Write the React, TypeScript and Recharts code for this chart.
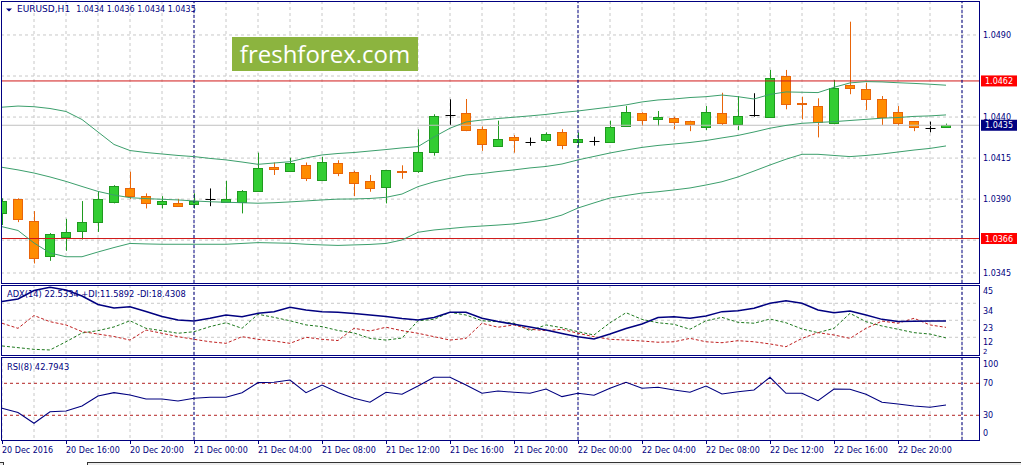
import React from "react";
import { Bar, CartesianGrid, ComposedChart, Line, ReferenceLine, XAxis, YAxis } from "recharts";

// EURUSD H1, 20 Dec 12:00 .. 22 Dec 23:00 (one entry per hour)
const opens = [1.03815, 1.039, 1.03766, 1.03552, 1.0367, 1.03705, 1.03762, 1.03884, 1.03965, 1.03916,
  1.0387, 1.03874, 1.0387, 1.03898, 1.03884, 1.03884, 1.03951, 1.04098, 1.04073, 1.04108,
  1.04014, 1.04118, 1.04063, 1.04008, 1.03976, 1.04072, 1.0407, 1.04188, 1.04412, 1.04427,
  1.04326, 1.04226, 1.04278, 1.04247, 1.04258, 1.04307, 1.04247, 1.04255, 1.04247, 1.04344,
  1.04427, 1.04387, 1.04393, 1.04375, 1.04342, 1.04427, 1.04356, 1.04413, 1.04402, 1.04648,
  1.04483, 1.04466, 1.04366, 1.04597, 1.04569, 1.0451, 1.04429, 1.04376, 1.04333, 1.0434];
const highs = [1.03905, 1.03905, 1.03827, 1.03693, 1.0378, 1.03888, 1.03945, 1.03985, 1.04067, 1.03935,
  1.03918, 1.03902, 1.03935, 1.03965, 1.04012, 1.03955, 1.04183, 1.04123, 1.04152, 1.04123,
  1.04158, 1.04137, 1.04073, 1.04047, 1.04078, 1.04106, 1.04325, 1.04417, 1.04508, 1.0451,
  1.04343, 1.04378, 1.0429, 1.04275, 1.04307, 1.04326, 1.04306, 1.0428, 1.04378, 1.04467,
  1.04429, 1.04437, 1.04402, 1.04378, 1.04467, 1.04548, 1.04528, 1.04545, 1.04687, 1.04687,
  1.04524, 1.04514, 1.04626, 1.04981, 1.04609, 1.04528, 1.04467, 1.04376, 1.04372, 1.0436];
const lows = [1.03742, 1.0376, 1.03508, 1.03524, 1.03585, 1.03654, 1.037, 1.03874, 1.039, 1.03843,
  1.03843, 1.03853, 1.03843, 1.03857, 1.03884, 1.03813, 1.03945, 1.04047, 1.04065, 1.0401,
  1.0401, 1.0404, 1.03918, 1.03945, 1.03874, 1.04024, 1.0406, 1.04165, 1.04351, 1.04314,
  1.04194, 1.04226, 1.04183, 1.04225, 1.04247, 1.04204, 1.0422, 1.04226, 1.04247, 1.04342,
  1.04345, 1.04345, 1.04326, 1.04314, 1.0432, 1.04352, 1.0432, 1.04402, 1.04398, 1.04447,
  1.04386, 1.04276, 1.04356, 1.04539, 1.04443, 1.04352, 1.04345, 1.04314, 1.04307, 1.0434];
const closes = [1.03888, 1.03776, 1.03544, 1.03685, 1.03697, 1.03758, 1.03898, 1.03979, 1.0392, 1.03874,
  1.03888, 1.03856, 1.0389, 1.03898, 1.039, 1.03947, 1.04088, 1.04084, 1.0412, 1.04027,
  1.04124, 1.04057, 1.03996, 1.03965, 1.04076, 1.04068, 1.04188, 1.04409, 1.04412, 1.0432,
  1.04235, 1.04265, 1.04258, 1.04247, 1.04295, 1.04228, 1.04267, 1.04255, 1.04338, 1.04429,
  1.04385, 1.04402, 1.04368, 1.04356, 1.04429, 1.04366, 1.04405, 1.04413, 1.04636, 1.04478,
  1.04477, 1.04372, 1.04577, 1.04575, 1.04512, 1.04402, 1.04366, 1.04338, 1.04333, 1.0435];

const bbUpper = [1.0446, 1.04467, 1.04463, 1.04452, 1.04434, 1.04385, 1.04309, 1.04233, 1.04196, 1.04184,
  1.04175, 1.04166, 1.04159, 1.04148, 1.04139, 1.04126, 1.04112, 1.0412, 1.04128, 1.04151,
  1.04169, 1.04178, 1.04184, 1.04193, 1.04202, 1.04212, 1.0422, 1.04279, 1.04332, 1.0437,
  1.04382, 1.04391, 1.04399, 1.04407, 1.04416, 1.04428, 1.04437, 1.04449, 1.04461, 1.04474,
  1.04492, 1.04504, 1.0451, 1.04519, 1.04524, 1.04534, 1.04524, 1.0451, 1.04538, 1.04553,
  1.04551, 1.04549, 1.04581, 1.04608, 1.04616, 1.04614, 1.04609, 1.04605, 1.046, 1.04594];
const bbMiddle = [1.04094, 1.04078, 1.04059, 1.04035, 1.04008, 1.03977, 1.03947, 1.03925, 1.03909, 1.03903,
  1.03899, 1.03895, 1.03889, 1.03884, 1.03881, 1.03878, 1.03875, 1.03878, 1.03883, 1.03889,
  1.03895, 1.039, 1.03901, 1.03904, 1.03911, 1.03931, 1.03976, 1.04005, 1.04027, 1.04047,
  1.04056, 1.04068, 1.04078, 1.0409, 1.04099, 1.04114, 1.04139, 1.0416, 1.04181, 1.04199,
  1.04215, 1.04227, 1.04236, 1.04245, 1.04257, 1.04273, 1.04288, 1.04309, 1.04332, 1.04349,
  1.04362, 1.04367, 1.04372, 1.04379, 1.04386, 1.04393, 1.04397, 1.04404, 1.04407, 1.04413];
const bbLower = [1.03732, 1.03709, 1.03633, 1.03572, 1.03549, 1.03549, 1.03578, 1.03605, 1.0363, 1.03627,
  1.03625, 1.03625, 1.03625, 1.03625, 1.03625, 1.0363, 1.03635, 1.03633, 1.03631, 1.03625,
  1.03621, 1.03618, 1.03621, 1.03624, 1.0363, 1.03651, 1.03698, 1.03712, 1.03721, 1.0373,
  1.03736, 1.03742, 1.03749, 1.03761, 1.03776, 1.03803, 1.03846, 1.03877, 1.03907, 1.03922,
  1.03937, 1.03945, 1.03956, 1.03968, 1.03986, 1.04006, 1.04035, 1.04071, 1.04108, 1.04143,
  1.04173, 1.04173, 1.04166, 1.04159, 1.04166, 1.04175, 1.04187, 1.04199, 1.04209, 1.04224];

const adxMain = [35.2, 36.8, 42.3, 44.4, 42.6, 38.7, 33.2, 31.0, 31.8, 28.7,
  25.5, 23.2, 22.5, 24.3, 26.4, 25.3, 27.5, 28.6, 31.4, 29.7,
  28.6, 28.2, 27.4, 26.4, 25.5, 24.2, 23.2, 24.8, 28.2, 28.2,
  24.3, 22.2, 20.4, 18.7, 16.7, 14.5, 12.4, 10.9, 14.1, 17.7,
  20.6, 24.8, 25.3, 24.3, 25.8, 28.6, 29.2, 30.8, 34.0, 35.7,
  34.0, 29.7, 27.9, 29.0, 26.4, 23.6, 22.2, 22.4, 22.5, 22.53];
const plusDi = [6.4, 5.3, 4.2, 3.8, 9.1, 14.8, 16.3, 18.7, 22.7, 17.8,
  16.3, 14.6, 15.6, 18.9, 21.4, 17.8, 26.9, 24.9, 22.7, 20.0,
  18.9, 16.4, 14.8, 11.3, 10.2, 11.5, 22.7, 23.6, 28.2, 26.4,
  22.7, 22.1, 21.1, 16.3, 20.0, 18.2, 15.6, 13.5, 21.4, 27.9,
  23.6, 21.4, 20.4, 17.2, 22.7, 24.9, 21.7, 21.1, 23.8, 21.4,
  17.4, 15.0, 17.8, 27.5, 22.1, 19.3, 17.2, 15.0, 14.1, 11.59];
const minusDi = [21.1, 17.8, 26.1, 22.1, 20.0, 15.7, 14.1, 12.5, 10.2, 16.7,
  14.6, 12.4, 10.7, 9.1, 8.1, 12.4, 10.7, 9.6, 8.1, 12.0,
  10.7, 9.9, 17.8, 16.1, 18.5, 16.3, 14.6, 12.4, 10.2, 11.3,
  21.1, 18.5, 20.0, 17.2, 16.3, 17.2, 14.6, 12.4, 10.7, 10.2,
  9.6, 8.8, 9.1, 11.3, 9.1, 8.5, 9.8, 9.1, 7.7, 5.9,
  11.3, 15.0, 13.5, 11.3, 17.8, 22.5, 21.1, 24.3, 20.0, 18.43];
const rsi = [38.8, 33.5, 20.0, 34.5, 35.4, 41.6, 54.1, 58.3, 55.4, 50.4,
  50.4, 47.9, 51.3, 52.5, 52.5, 58.3, 70.8, 71.3, 74.1, 58.3,
  67.9, 58.5, 51.3, 46.3, 58.8, 56.3, 66.6, 77.5, 77.5, 67.9,
  57.5, 60.4, 58.8, 57.5, 62.9, 53.3, 57.5, 55.0, 63.8, 71.3,
  63.8, 65.0, 61.6, 58.8, 66.6, 56.6, 59.5, 61.6, 77.5, 57.5,
  57.5, 48.3, 62.9, 62.5, 56.3, 46.3, 44.1, 41.6, 40.0, 42.79];

// one label every 4 bars
const timeLabels = ["20 Dec 2016", "20 Dec 16:00", "20 Dec 20:00", "21 Dec 00:00", "21 Dec 04:00",
  "21 Dec 08:00", "21 Dec 12:00", "21 Dec 16:00", "21 Dec 20:00", "22 Dec 00:00", "22 Dec 04:00",
  "22 Dec 08:00", "22 Dec 12:00", "22 Dec 16:00", "22 Dec 20:00"];
const daySeparators = [12, 36, 60];
const priceTicks = [1.0345, 1.039, 1.0415, 1.044, 1.049];
const priceGrid = [1.0345, 1.0365, 1.039, 1.0415, 1.044, 1.0465, 1.049];
const adxTicks = [2, 12, 23, 34, 45];
const adxGrid = [12, 23, 34];
const rsiTicks = [0, 30, 70, 100];
const rsiLevels = [30, 70];
const support = 1.0366;
const resistance = 1.0462;
const bid = 1.0435;

const NAVY = "#000080";
const GRID = "#c8c8c8";
const BAND = "#3c9f6c";
const FONT = "'DejaVu Sans', sans-serif";
const X_DOMAIN: [number, number] = [-0.0625, 61.0625];
const xGrid = Array.from({ length: 31 }, (_, i) => i * 2);

const bars = opens.map((open, i) => ({
  k: i,
  open,
  close: closes[i],
  high: highs[i],
  low: lows[i],
  range: [lows[i], highs[i]],
  upper: bbUpper[i],
  middle: bbMiddle[i],
  lower: bbLower[i],
  adx: adxMain[i],
  pdi: plusDi[i],
  mdi: minusDi[i],
  rsi: rsi[i],
}));

function Candle(props: any) {
  const { x, y, width, height, payload } = props;
  if (x == null || y == null || !payload) return null;
  const { open, close, high, low } = payload;
  const top = Math.min(y, y + height);
  const span = Math.abs(height);
  const perUnit = high > low ? span / (high - low) : 0;
  const py = (v: number) => top + (high - v) * perUnit;
  const cx = Math.round(x + width / 2) + 0.5;
  const wickTop = py(high);
  const wickBot = py(low);

  if (Math.abs(open - close) < 1e-7) {
    const yy = Math.round(py(open)) + 0.5;
    return (
      <g>
        <line x1={cx} x2={cx} y1={wickTop} y2={wickBot} stroke="#000" />
        <line x1={cx - 5} x2={cx + 5} y1={yy} y2={yy} stroke="#000" />
      </g>
    );
  }

  const bull = close > open;
  const fill = bull ? "#32cd32" : "#ff8c00";
  const edge = bull ? "#1f9a1f" : "#e8650a";
  const bTop = Math.round(py(Math.max(open, close))) + 0.5;
  const bBot = Math.round(py(Math.min(open, close))) + 0.5;
  return (
    <g>
      <line x1={cx} x2={cx} y1={wickTop} y2={wickBot} stroke={edge} />
      {bBot - bTop < 1 ? (
        <line x1={cx - 5} x2={cx + 4} y1={bTop} y2={bTop} stroke={edge} strokeWidth={2} />
      ) : (
        <rect x={cx - 5} y={bTop} width={9} height={bBot - bTop} fill={fill} stroke={edge} />
      )}
    </g>
  );
}

const levelTag = (text: string, fill: string) => (p: any) => {
  const vb = p.viewBox || {};
  const x0 = (vb.x || 0) + (vb.width || 0) + 2;
  const yy = vb.y || 0;
  return (
    <g>
      <rect x={x0} y={yy - 5.5} width={36} height={11} fill={fill} />
      <text x={x0 + 18} y={yy + 3} textAnchor="middle" fill="#fff" fontSize={8} fontFamily={FONT}>
        {text}
      </text>
    </g>
  );
};

const axisLabel = (shift: Record<number, number>, fmt: (v: number) => string, sizes: Record<number, number> = {}) => (p: any) => {
  const v = p.payload.value;
  return (
    <text x={p.x + 4} y={p.y + (shift[v] ?? 0) + 3} fill={NAVY} fontSize={sizes[v] ?? 8} fontFamily={FONT} textAnchor="start">
      {fmt(v)}
    </text>
  );
};

const timeTick = (p: any) => {
  const k = p.payload.value;
  const label = timeLabels[k / 4];
  const tx = Math.round(p.x) + 0.5;
  return (
    <g>
      <line x1={tx} x2={tx} y1={p.y} y2={p.y + 4} stroke={NAVY} />
      <text x={p.x} y={p.y + 12.5} fill={NAVY} fontSize={8} fontFamily={FONT} textAnchor="start">
        {label}
      </text>
    </g>
  );
};

function separators() {
  return daySeparators.map((d) => (
    <ReferenceLine key={d} x={d} stroke={NAVY} strokeDasharray="3 2" ifOverflow="visible" />
  ));
}

function MainPanel() {
  return (
    <ComposedChart width={1021} height={284} data={bars} margin={{ top: 1, right: 0, bottom: 1, left: 1 }}>
      <CartesianGrid stroke={GRID} strokeDasharray="3 3" horizontalValues={priceGrid} verticalValues={xGrid} />
      <XAxis dataKey="k" type="number" domain={X_DOMAIN} hide allowDataOverflow />
      <YAxis
        orientation="right"
        width={42}
        domain={[1.03389, 1.05107]}
        ticks={priceTicks}
        interval={0}
        axisLine={false}
        tickLine={false}
        tickSize={0}
        tickMargin={0}
        tick={axisLabel({}, (v) => v.toFixed(4))}
        allowDataOverflow
      />
      <ReferenceLine y={bid} stroke="#c0c0c0" label={levelTag("1.0435", NAVY)} />
      <ReferenceLine y={resistance} stroke="#d01818" label={levelTag("1.0462", "#ff0000")} />
      <ReferenceLine y={support} stroke="#d01818" label={levelTag("1.0366", "#ff0000")} />
      {separators()}
      <Line dataKey="upper" stroke={BAND} dot={false} isAnimationActive={false} />
      <Line dataKey="middle" stroke={BAND} dot={false} isAnimationActive={false} />
      <Line dataKey="lower" stroke={BAND} dot={false} isAnimationActive={false} />
      <Bar dataKey="range" barSize={10} shape={(p: any) => <Candle {...p} />} isAnimationActive={false} />
    </ComposedChart>
  );
}

function AdxPanel() {
  return (
    <ComposedChart width={1021} height={72} data={bars} margin={{ top: 1, right: 0, bottom: 1, left: 1 }}>
      <CartesianGrid stroke={GRID} strokeDasharray="3 3" horizontalValues={adxGrid} verticalValues={xGrid} />
      <XAxis dataKey="k" type="number" domain={X_DOMAIN} hide allowDataOverflow />
      <YAxis
        orientation="right"
        width={42}
        domain={[0.54, 45.84]}
        ticks={adxTicks}
        interval={0}
        axisLine={false}
        tickLine={false}
        tickSize={0}
        tickMargin={0}
        tick={axisLabel({ 45: 5, 34: 8, 23: 8, 12: 4.5, 2: -1.5 }, (v) => String(v), { 2: 7 })}
        allowDataOverflow
      />
      {separators()}
      <Line dataKey="pdi" stroke="#1f7a1f" strokeDasharray="3 2" dot={false} isAnimationActive={false} />
      <Line dataKey="mdi" stroke="#c02020" strokeDasharray="3 2" dot={false} isAnimationActive={false} />
      <Line dataKey="adx" stroke={NAVY} strokeWidth={1.5} dot={false} isAnimationActive={false} />
    </ComposedChart>
  );
}

function RsiPanel() {
  return (
    <ComposedChart width={1021} height={104} data={bars} margin={{ top: 1, right: 0, bottom: 0, left: 1 }}>
      <CartesianGrid stroke={GRID} strokeDasharray="3 3" horizontal={false} verticalValues={xGrid} />
      <XAxis
        dataKey="k"
        type="number"
        domain={X_DOMAIN}
        height={20}
        ticks={timeLabels.map((_, i) => i * 4)}
        interval={0}
        axisLine={false}
        tickLine={false}
        tickSize={0}
        tickMargin={0}
        tick={timeTick}
        allowDataOverflow
      />
      <YAxis
        orientation="right"
        width={42}
        domain={[-0.9, 102.9]}
        ticks={rsiTicks}
        interval={0}
        axisLine={false}
        tickLine={false}
        tickSize={0}
        tickMargin={0}
        tick={axisLabel({ 100: 5, 0: -6 }, (v) => String(v))}
        allowDataOverflow
      />
      {rsiLevels.map((l) => (
        <ReferenceLine key={l} y={l} stroke="#b22222" strokeDasharray="3 3" />
      ))}
      {separators()}
      <Line dataKey="rsi" stroke={NAVY} strokeWidth={1.1} dot={false} isAnimationActive={false} />
    </ComposedChart>
  );
}

const abs = (left: number, top: number): React.CSSProperties => ({ position: "absolute", left, top });
const frame = (top: number, height: number): React.CSSProperties => ({
  position: "absolute", left: 1, top, width: 979, height, border: `1px solid ${NAVY}`, boxSizing: "border-box", pointerEvents: "none",
});

export default function App() {
  return (
    <div style={{ position: "absolute", left: 0, top: 0, width: 1021, height: 465, background: "#fff", overflow: "hidden", fontFamily: FONT, color: NAVY }}>
      <div style={abs(0, 0)}><MainPanel /></div>
      <div style={abs(0, 284)}><AdxPanel /></div>
      <div style={abs(0, 356)}><RsiPanel /></div>

      <div style={frame(1, 283)} />
      <div style={frame(285, 71)} />
      <div style={frame(357, 84)} />

      <svg style={abs(0, 0)} width={14} height={14}>
        <polygon points="6,8.5 12,8.5 9,11.5" fill={NAVY} />
      </svg>
      <div style={{ ...abs(17, 5), fontSize: 9, lineHeight: "9px", whiteSpace: "nowrap" }}>
        EURUSD,H1<span style={{ fontSize: 8, marginLeft: 6 }}>1.0434 1.0436 1.0434 1.0435</span>
      </div>
      <div style={{ ...abs(7, 290), fontSize: 8.3, lineHeight: "8px", whiteSpace: "nowrap" }}>
        ADX(14) 22.5334 +DI:11.5892 -DI:18.4308
      </div>
      <div style={{ ...abs(7, 363), fontSize: 8.3, lineHeight: "8px", whiteSpace: "nowrap" }}>RSI(8) 42.7943</div>

      <div
        style={{
          ...abs(232, 37), width: 186, height: 34, background: "#8cb43f", color: "#fff",
          fontFamily: "'Open Sans', sans-serif", fontSize: 24, lineHeight: "34px", textAlign: "center",
        }}
      >
        freshforex.com
      </div>

      <div style={{ ...abs(0, 462), width: 1021, height: 3, background: "#ececec", borderTop: "1px solid #333" }} />
      <div style={{ ...abs(3, 462), width: 83, height: 3, background: "#fff", borderLeft: "1px solid #333", borderRight: "1px solid #333" }} />
    </div>
  );
}
